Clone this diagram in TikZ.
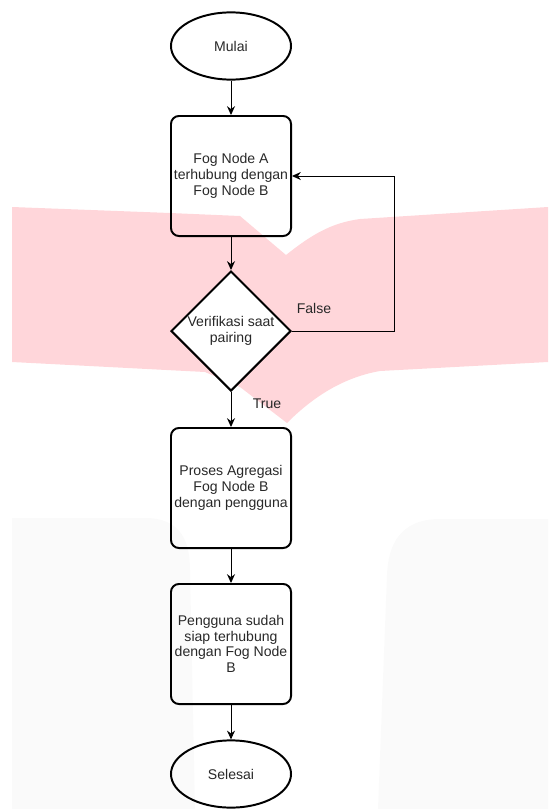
\documentclass[tikz,border=0pt]{standalone}
\usepackage{fontspec}
\setmainfont{Liberation Sans}
\usetikzlibrary{shapes.geometric,arrows.meta}
\definecolor{pinkwm}{RGB}{255,214,218}
\definecolor{graywm}{RGB}{250,250,250}
\definecolor{txt}{RGB}{40,40,40}

\begin{document}
\begin{tikzpicture}[x=0.025cm,y=-0.025cm,
  font=\fontsize{10}{11.2}\selectfont,
  terminal/.style={ellipse,draw,line width=1.4pt,minimum width=3cm,minimum height=1.68cm,inner sep=0pt,text=txt},
  process/.style={rectangle,draw,rounded corners=0.2cm,line width=1.4pt,minimum width=3cm,minimum height=3cm,inner xsep=0pt,align=center,text=txt},
  decision/.style={diamond,draw,fill=white,line width=1.4pt,minimum width=3cm,minimum height=3cm,aspect=1,inner sep=0pt,align=center,text=txt},
  flow/.style={-{Stealth[length=0.22cm,width=0.2cm]},line width=0.7pt},
  lbl/.style={text=txt,inner sep=0pt}]

\useasboundingbox (0,0) rectangle (548,809);

% background
\fill [pinkwm] (12,207) -- (170,213) -- (240,216) -- (286,255)
  .. controls (310,236) and (330,223) .. (360,219) -- (548,207) -- (548,362)
  -- (380,371) .. controls (340,378) and (310,400) .. (287,423)
  -- (240,387) -- (205,372) -- (12,362) -- cycle;
\fill [graywm] (12,809) -- (12,518) -- (145,518) .. controls (180,518) and (190,540) .. (190,570) -- (195,809) -- cycle;
\fill [graywm] (548,809) -- (548,519) -- (440,519) .. controls (400,519) and (388,545) .. (387,575) -- (378,809) -- cycle;

\node [terminal] (v1) at (231,46) {Mulai};
\node [process] (v2) at (231,176) {Fog Node A\\terhubung dengan\\Fog Node B};
\node [decision] (v3) at (231,331) {Verifikasi saat\\pairing};
\node [process] (v4) at (231,488) {Proses Agregasi\\Fog Node B\\dengan pengguna};
\node [process] (v5) at (231,644) {Pengguna sudah\\siap terhubung\\dengan Fog Node\\B};
\node [terminal] (v6) at (231,774) {Selesai};

\draw [flow] (v1) -- (v2);
\draw [flow] (v2) -- (v3);
\draw [flow] (v3) -- (v4);
\draw [flow] (v4) -- (v5);
\draw [flow] (v5) -- (v6);
\draw [flow] (v3.east) -- ++(102,0) |- (v2.east);

\node [lbl] (v7) at (314,308) {False};
\node [lbl] (v8) at (267,404) {True};
\end{tikzpicture}
\end{document}
